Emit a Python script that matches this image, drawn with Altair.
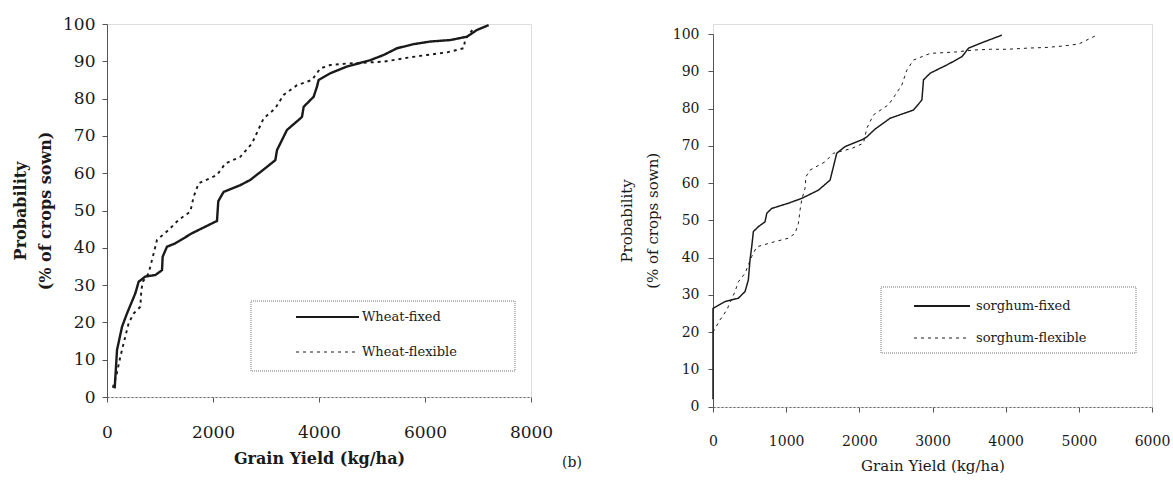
import altair as alt
import pandas as pd

# ---------------- data ----------------
wheat_series = ["Wheat-fixed", "Wheat-flexible"]
wheat_fixed_yield = [145, 189, 283, 377, 535, 597, 723, 912, 1038, 1050, 1132, 1289, 1604, 1918, 2075,
                     2100, 2201, 2516, 2704, 3019, 3176, 3208, 3396, 3617, 3679, 3711, 3899, 3962, 3993,
                     4214, 4528, 4968, 5220, 5472, 5786, 6101, 6478, 6792, 6981, 7201]
wheat_fixed_prob = [2.3, 12.6, 18.8, 22.4, 27.8, 30.9, 32.3, 32.7, 34.0, 37.6, 40.3, 41.2, 43.9, 46.1, 47.2,
                    52.5, 55.0, 56.8, 58.2, 61.7, 63.5, 66.2, 71.6, 74.3, 75.1, 77.8, 80.5, 83.2, 85.0,
                    86.8, 88.6, 90.3, 91.7, 93.5, 94.6, 95.3, 95.7, 96.6, 98.4, 99.7]
wheat_flex_yield = [110, 180, 252, 314, 409, 503, 629, 648, 680, 786, 849, 912, 943, 1164, 1352, 1572,
                    1635, 1730, 2075, 2233, 2516, 2736, 2956, 3176, 3333, 3585, 3868, 4025, 4214, 4528,
                    5220, 5597, 6038, 6415, 6730, 6760, 6918]
wheat_flex_prob = [2.5, 6.0, 10.8, 14.4, 19.8, 22.4, 24.2, 28.7, 31.0, 33.2, 36.7, 40.3, 42.1, 44.8, 47.5,
                   49.7, 53.7, 57.3, 59.5, 62.6, 64.4, 68.0, 74.7, 77.4, 81.0, 83.6, 85.0, 88.1, 89.0, 89.4,
                   89.9, 90.8, 91.7, 92.4, 93.5, 96.0, 98.8]

sorghum_series = ["sorghum-fixed", "sorghum-flexible"]
sorghum_fixed_yield = [0, 0, 164, 346, 438, 483, 506, 529, 552, 620, 711, 735, 803, 1030, 1213, 1441, 1600,
                       1646, 1691, 1805, 2034, 2102, 2216, 2421, 2740, 2855, 2877, 2969, 3197, 3402, 3493,
                       3653, 3949]
sorghum_fixed_prob = [2.0, 26.4, 28.2, 29.1, 30.9, 34.0, 39.4, 42.9, 47.0, 48.3, 49.6, 51.9, 53.2, 54.6, 55.9,
                      58.1, 60.8, 64.4, 68.0, 69.8, 71.6, 72.4, 74.5, 77.4, 79.6, 82.3, 87.7, 89.5, 91.7, 93.9,
                      96.2, 97.5, 99.7]
sorghum_flex_yield = [0, 96, 187, 301, 346, 438, 529, 598, 848, 1030, 1122, 1167, 1190, 1213, 1258, 1270,
                      1327, 1532, 1646, 1897, 2056, 2102, 2193, 2398, 2490, 2581, 2649, 2740, 2969, 3334,
                      3562, 3789, 4017, 4291, 4564, 4792, 4997, 5226]
sorghum_flex_prob = [20.0, 23.3, 25.9, 30.9, 33.5, 35.8, 40.3, 42.9, 44.3, 45.2, 46.5, 49.2, 52.8, 55.5, 58.6,
                     61.7, 63.5, 65.7, 68.0, 69.3, 70.7, 74.7, 78.3, 81.0, 83.6, 86.3, 90.3, 93.0, 94.8, 95.2,
                     95.7, 95.9, 95.9, 96.2, 96.4, 96.8, 97.3, 99.5]

left_x_ticks = [0, 2000, 4000, 6000, 8000]
right_x_ticks = [0, 1000, 2000, 3000, 4000, 5000, 6000]
y_ticks = list(range(0, 101, 10))
x_title = "Grain Yield (kg/ha)"
y_title = ["Probability", "(% of crops sown)"]
panel_label = "(b)"


def frame(series, ys, ps):
    rows = []
    for s, yy, pp in zip(series, ys, ps):
        for i, (a, b) in enumerate(zip(yy, pp)):
            rows.append({"series": s, "yield": a, "prob": b, "idx": i})
    return pd.DataFrame(rows)


wheat_df = frame(wheat_series, [wheat_fixed_yield, wheat_flex_yield], [wheat_fixed_prob, wheat_flex_prob])
sorghum_df = frame(sorghum_series, [sorghum_fixed_yield, sorghum_flex_yield],
                   [sorghum_fixed_prob, sorghum_flex_prob])

FONT = "DejaVu Serif"
INK = "#1a1a1a"
DASH = [3, 4]


def panel(df, series, xmax, xticks, w, h, yrange, lab_size, title_size, weight, legend_box, legend_rows,
          lx1, lx2, ltext, title_lh, label_pad, x_label_pad, x_title_pad, y_title_pad, extra=None):
    common_axis = dict(labelFont=FONT, titleFont=FONT, labelColor=INK, titleColor=INK,
                       labelFontSize=lab_size, titleFontSize=title_size, titleFontWeight=weight,
                       tickColor="#555", tickSize=5, grid=False, labelFlush=False)
    x = alt.X("yield:Q", scale=alt.Scale(domain=[0, xmax], nice=False),
              axis=alt.Axis(values=xticks, title=x_title, format="d", domainColor="#666",
                            domainDash=[2, 2], labelPadding=x_label_pad, titlePadding=x_title_pad,
                            **common_axis))
    yscale = alt.Scale(domain=[0, 100], nice=False, range=yrange) if yrange else alt.Scale(domain=[0, 100], nice=False)
    y = alt.Y("prob:Q", scale=yscale,
              axis=alt.Axis(values=y_ticks, title=y_title, domainColor="#555", labelPadding=label_pad,
                            titlePadding=y_title_pad, titleLineHeight=title_lh, **common_axis))
    lines = alt.Chart(df).mark_line(color=INK, strokeCap="butt").encode(
        x=x, y=y,
        order=alt.Order("idx:Q"),
        strokeDash=alt.StrokeDash("series:N", scale=alt.Scale(domain=series, range=[[1, 0], DASH]), legend=None),
        strokeWidth=alt.StrokeWidth("series:N", scale=alt.Scale(domain=series, range=[2.4, 1.0]), legend=None),
    )
    bx1, by1, bx2, by2 = legend_box
    one = pd.DataFrame({"k": [0]})
    box = alt.Chart(one).mark_rect(fill="white", stroke="#777", strokeWidth=1, strokeDash=[1, 1]).encode(
        x=alt.value(bx1), x2=alt.value(bx2), y=alt.value(by1), y2=alt.value(by2))
    layers = [lines, box]
    for s, ry, wdt, dash in zip(series, legend_rows, [2.0, 1.0], [[1, 0], DASH]):
        sdf = pd.DataFrame({"series": [s]})
        layers.append(alt.Chart(sdf).mark_rule(color=INK, strokeWidth=wdt, strokeDash=dash).encode(
            x=alt.value(lx1), x2=alt.value(lx2), y=alt.value(ry)))
        layers.append(alt.Chart(sdf).mark_text(align="left", baseline="middle", font=FONT, fontSize=13,
                                               color=INK).encode(
            x=alt.value(ltext), y=alt.value(ry), text="series:N"))
    if extra is not None:
        layers.append(extra)
    return alt.layer(*layers).properties(width=w, height=h)


b_label = alt.Chart(pd.DataFrame({"t": [panel_label]})).mark_text(
    font=FONT, fontSize=14, color=INK, align="center", baseline="middle").encode(
    x=alt.value(465), y=alt.value(439), text="t:N")

left = panel(wheat_df, wheat_series, 8000, left_x_ticks, 424, 373, None, 17, 16, "bold",
             (144, 277, 408, 347), [293, 328], 189, 252, 255, 25, 7, 22, 10, 9, extra=b_label)
right = panel(sorghum_df, sorghum_series, 6000, right_x_ticks, 439, 383, [382.7, 10], 14, 15, "normal",
              (168, 263, 423, 329), [282, 314], 201, 257, 263, 26, 9, 22, 10, 12)

chart = alt.hconcat(left, right, spacing=182, bounds="flush").properties(
    padding={"left": 12, "top": 14, "right": 0, "bottom": 0}
).configure_view(stroke=None).configure(background="white")

chart.save("out.html", embed_options={"renderer": "svg", "actions": False})
